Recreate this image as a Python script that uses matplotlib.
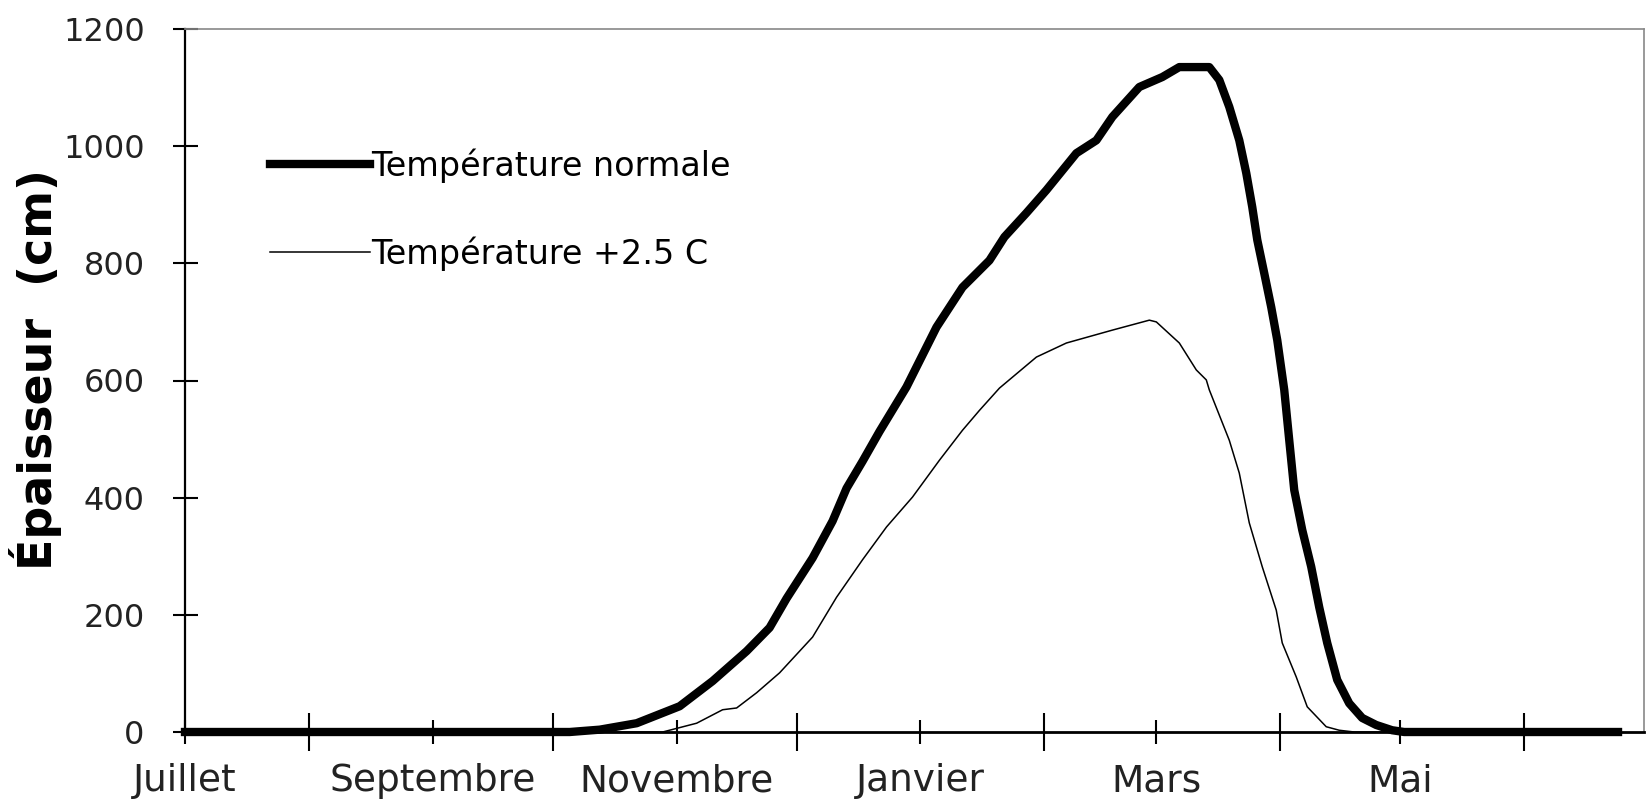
import matplotlib
matplotlib.use("Agg")
import matplotlib.pyplot as plt
from matplotlib.ticker import FixedLocator

# jours depuis le 1er juillet
days_normal = [0, 96.25, 103.75, 113, 123.75, 132, 140.5, 146.25, 150.5, 157, 162,
               165.5, 169.5, 173.75, 180.5, 188, 194.5, 201.25, 205, 210.5, 215.5,
               223, 228, 232, 238.75, 244.5, 248.75, 256.25, 258.75, 261.25, 263.75,
               265.5, 267, 268.25, 270, 271.75, 273.25, 275, 276.25, 277.5, 279.5,
               281.75, 283.75, 285.75, 288.25, 291.25, 294.5, 298, 302, 305, 358.5]
snow_normal = [0, 0, 4, 15, 44, 87, 138, 178, 228, 297, 360,
               416, 462, 513, 589, 691, 759, 805, 845, 886, 925,
               988, 1010, 1050, 1101, 1118, 1135, 1135, 1113, 1067, 1010,
               954, 896, 840, 783, 725, 669, 584, 498, 413, 345,
               282, 213, 152, 89, 49, 24, 12, 3, 0, 0]

days_warm = [0, 119.5, 128, 134.5, 138, 143, 148.75, 157, 163, 169.5, 175.5, 182,
             188.75, 194.5, 198.75, 203.75, 213, 220.5, 232, 241.25, 243, 248.75,
             253, 255.5, 256.25, 261.25, 263.75, 266.25, 269.5, 273, 274.5, 278,
             280.75, 285.5, 288.75, 292.5, 358.5]
snow_warm = [0, 0, 15, 38, 41, 67, 101, 162, 230, 294, 350, 401,
             464, 515, 549, 587, 640, 664, 686, 703, 700, 664,
             618, 601, 584, 498, 442, 357, 282, 208, 152, 94,
             43, 9, 3, 0, 0]

month_starts = [0, 31, 62, 92, 123, 153, 184, 215, 243, 274, 304, 335]
month_labels = ['Juillet', 'Septembre', 'Novembre', 'Janvier', 'Mars', 'Mai']
y_ticks = [0, 200, 400, 600, 800, 1000, 1200]

fig = plt.figure(figsize=(16.46, 8.06), dpi=100)
ax = fig.add_axes([185 / 1646, 1 - 732 / 806, 1459 / 1646, 703 / 806])

ax.plot(days_normal, snow_normal, color='black', linewidth=6, clip_on=False,
        solid_joinstyle='round', label='Température normale')
ax.plot(days_warm, snow_warm, color='black', linewidth=1.1,
        label='Température +2.5 C')

ax.set_xlim(0, 365)
ax.set_ylim(0, 1200)

ax.xaxis.set_major_locator(FixedLocator(month_starts[::2]))
ax.xaxis.set_minor_locator(FixedLocator(month_starts[1::2]))
ax.set_xticklabels(month_labels)
ax.set_yticks(y_ticks)

ax.tick_params(axis='x', which='major', direction='inout', length=17, width=1.5,
               labelsize=27, pad=14, labelcolor='#222222')
ax.tick_params(axis='x', which='minor', direction='inout', length=28, width=1.5)
ax.tick_params(axis='y', direction='inout', length=18, width=1.5,
               labelsize=23, pad=20, labelcolor='#222222')

ax.spines['left'].set_linewidth(1.6)
ax.spines['bottom'].set_linewidth(2)
for side in ['top', 'right']:
    ax.spines[side].set_color('#888888')
    ax.spines[side].set_linewidth(1.2)

ax.set_ylabel('Épaisseur  (cm)', fontsize=33, fontweight='bold')
ax.yaxis.set_label_coords(-0.084, 0.515)

ax.legend(loc='upper left', bbox_to_anchor=(0.058, 0.83), frameon=False,
          fontsize=24, handlelength=3.0, handletextpad=0.05, labelspacing=1.6,
          borderpad=0, borderaxespad=0)

fig.savefig('out.png', dpi=100)
plt.close(fig)
